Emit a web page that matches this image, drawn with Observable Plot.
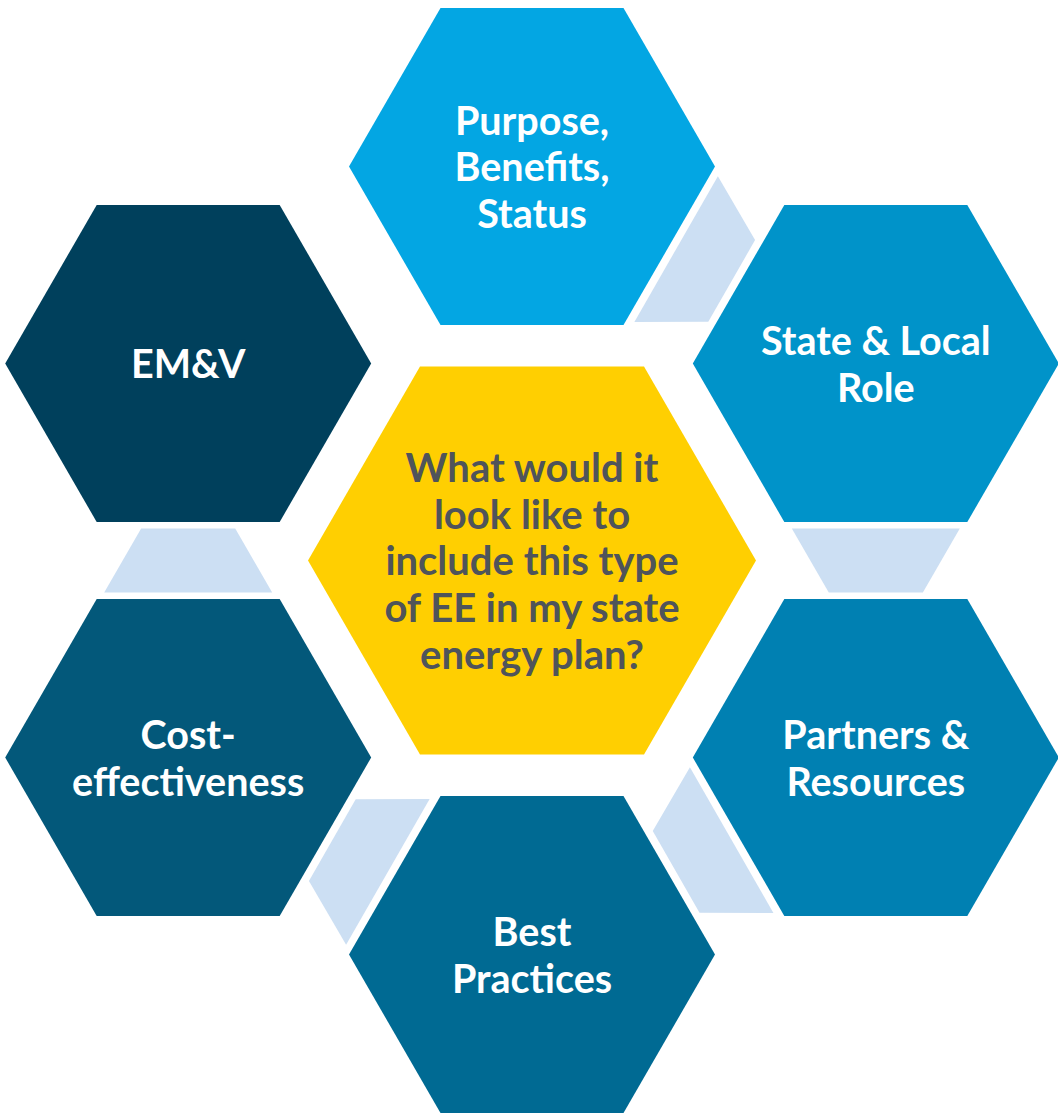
<!DOCTYPE html>
<html><head><meta charset="utf-8">
<script src="https://cdn.jsdelivr.net/npm/d3@7"></script>
<script src="https://cdn.jsdelivr.net/npm/@observablehq/plot@0.6"></script>
<style>body{margin:0;background:#fff}#chart svg{display:block}</style>
</head><body><div id="chart"></div>
<script>
// ---- data ----
const outerLabels = ["Purpose,\nBenefits,\nStatus", "State & Local\nRole", "Partners &\nResources", "Best\nPractices", "Cost-\neffectiveness", "EM&V"];
const outerColors = ["#03A6E3", "#0093C9", "#0080B2", "#006A93", "#03587A", "#00405C"];
const centerLabel = "What would it\nlook like to\ninclude this type\nof EE in my state\nenergy plan?";
const centerColor = "#FFCF01";
const connectorPairs = [[0, 1], [1, 2], [2, 3], [3, 4], [4, 5]];

// ---- layout ----
const W = 1058, H = 1117;
const CX = 531.5, CY = 560, RING_X = 397, RING_Y = 394;
const OUTER_R = 183, CENTER_R = 224, CONN_R = 84;

const hexSymbol = {
  draw(ctx, size) {
    const R = Math.sqrt(size / Math.PI);
    for (let k = 0; k < 6; k++) {
      const a = k * Math.PI / 3;
      const px = R * Math.cos(a), py = R * Math.sin(a);
      k ? ctx.lineTo(px, py) : ctx.moveTo(px, py);
    }
    ctx.closePath();
  }
};
const trapSymbol = {
  draw(ctx, size) {
    const s = Math.sqrt(size / Math.PI);
    const h = 0.381 * s, n = s - 2 * h * Math.tan(Math.PI / 6);
    ctx.moveTo(-s, -h); ctx.lineTo(s, -h); ctx.lineTo(n, h); ctx.lineTo(-n, h); ctx.closePath();
  }
};

const outer = outerLabels.map((label, i) => {
  const a = (-90 + 60 * i) * Math.PI / 180;
  return {label, color: outerColors[i], x: CX + RING_X * Math.cos(a), y: CY + RING_Y * Math.sin(a)};
});
const connectors = connectorPairs.map(([a, b]) => {
  const A = outer[a], B = outer[b];
  const dx = B.x - A.x, dy = B.y - A.y;
  return {x: (A.x + B.x) / 2, y: (A.y + B.y) / 2, rot: Math.atan2(-dx, dy) * 180 / Math.PI};
});
const center = [{label: centerLabel, x: CX, y: CY}];

const font = "Lato, 'Open Sans', sans-serif";
const chart = Plot.plot({
  width: W, height: H,
  margin: 0,
  x: {domain: [0, W], range: [0, W], axis: null},
  y: {domain: [0, H], range: [0, H], axis: null},
  style: {background: "#fff"},
  marks: [
    Plot.dot(connectors, {x: "x", y: "y", r: CONN_R, symbol: trapSymbol, rotate: "rot", fill: "#CCDFF3", stroke: "none"}),
    Plot.dot(outer, {x: "x", y: "y", r: OUTER_R, symbol: hexSymbol, fill: "color", stroke: "none"}),
    Plot.dot(center, {x: "x", y: "y", r: CENTER_R, symbol: hexSymbol, fill: centerColor, stroke: "none"}),
    Plot.text(outer, {x: "x", y: "y", text: "label", fill: "white", fontSize: 39.5, fontWeight: "bold", fontFamily: font, lineHeight: 1.175}),
    Plot.text(center, {x: "x", y: "y", text: "label", fill: "#4F545A", fontSize: 40, fontWeight: "bold", fontFamily: font, lineHeight: 1.165})
  ]
});
document.getElementById("chart").appendChild(chart);
</script>
</body></html>
